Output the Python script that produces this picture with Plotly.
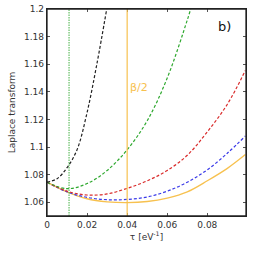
import plotly.graph_objects as go

# data
tau_orange = [0, 0.01, 0.02, 0.03, 0.04, 0.05, 0.06, 0.07, 0.08, 0.09, 0.099]
val_orange = [1.0745, 1.0675, 1.0625, 1.0603, 1.0597, 1.0605, 1.0630, 1.0675, 1.0755, 1.0845, 1.0945]

tau_blue = [0, 0.01, 0.02, 0.03, 0.04, 0.05, 0.06, 0.07, 0.08, 0.09, 0.099]
val_blue = [1.0745, 1.0675, 1.0635, 1.0618, 1.0620, 1.0638, 1.0680, 1.0745, 1.0835, 1.0955, 1.108]

tau_red = [0, 0.01, 0.02, 0.03, 0.04, 0.05, 0.06, 0.07, 0.08, 0.09, 0.099]
val_red = [1.0745, 1.0680, 1.0652, 1.0660, 1.0700, 1.0755, 1.0830, 1.0940, 1.1110, 1.1310, 1.1555]

tau_green = [0, 0.01, 0.02, 0.03, 0.04, 0.05, 0.06, 0.07, 0.0717]
val_green = [1.0745, 1.0698, 1.0735, 1.0830, 1.0980, 1.1190, 1.1500, 1.1920, 1.2]

tau_black = [0, 0.005, 0.01, 0.015, 0.02, 0.025, 0.0298]
val_black = [1.0745, 1.0770, 1.0850, 1.0980, 1.1250, 1.1610, 1.2]

vline_green = 0.011
vline_orange = 0.04

x_ticks = [0, 0.02, 0.04, 0.06, 0.08]
x_tick_text = ["0", "0.02", "0.04", "0.06", "0.08"]
y_ticks = [1.06, 1.08, 1.1, 1.12, 1.14, 1.16, 1.18, 1.2]
y_tick_text = ["1.06", "1.08", "1.1", "1.12", "1.14", "1.16", "1.18", "1.2"]

ORANGE = "#F7C14F"
GREEN = "#2EA82E"
fig = go.Figure()

fig.add_trace(go.Scatter(x=tau_orange, y=val_orange, mode="lines",
                         line=dict(color=ORANGE, width=1.3, shape="spline")))
fig.add_trace(go.Scatter(x=tau_blue, y=val_blue, mode="lines",
                         line=dict(color="#3A3AE8", width=1.2, dash="3px,2px", shape="spline")))
fig.add_trace(go.Scatter(x=tau_red, y=val_red, mode="lines",
                         line=dict(color="#D92A2A", width=1.2, dash="3px,2px", shape="spline")))
fig.add_trace(go.Scatter(x=tau_green, y=val_green, mode="lines",
                         line=dict(color=GREEN, width=1.2, dash="3px,2px", shape="spline")))
fig.add_trace(go.Scatter(x=tau_black, y=val_black, mode="lines",
                         line=dict(color="#222222", width=1.2, dash="3px,2px", shape="spline")))

fig.add_vline(x=vline_green, line=dict(color=GREEN, width=0.9, dash="1.5px,1px"))
fig.add_vline(x=vline_orange, line=dict(color=ORANGE, width=1.2))

# frame around the plotting area
fig.add_shape(type="rect", xref="paper", yref="paper", x0=0, x1=1, y0=0, y1=1,
              line=dict(color="#222222", width=1.3), layer="above")

fig.add_annotation(x=0.0405, y=1.143, text="β/2", showarrow=False, xanchor="left",
                   font=dict(color=ORANGE, size=11, family="DejaVu Sans"))
fig.add_annotation(x=0.0885, y=1.1875, text="b)", showarrow=False,
                   font=dict(color="#111111", size=13, family="DejaVu Sans"))

axis_common = dict(showline=True, linecolor="#222222", linewidth=1.3, mirror="ticks",
                   ticks="inside", ticklen=3, tickcolor="#555555", showgrid=False,
                   zeroline=False, automargin=False, ticklabeloverflow="allow",
                   tickfont=dict(size=9, color="#333333", family="DejaVu Sans"))

fig.update_xaxes(range=[0, 0.0993], tickvals=x_ticks, ticktext=x_tick_text,
                 title=dict(text="τ [eV<sup>-1</sup>]", font=dict(size=9, color="#333333", family="DejaVu Sans"),
                            standoff=3), **axis_common)
fig.update_yaxes(range=[1.05, 1.2], tickvals=y_ticks, ticktext=y_tick_text,
                 title=dict(text="Laplace transform", font=dict(size=9, color="#333333", family="DejaVu Sans"),
                            standoff=6), **axis_common)

fig.update_layout(width=262, height=255, margin=dict(l=47, r=16, t=9, b=39),
                  plot_bgcolor="white", paper_bgcolor="white", showlegend=False)

# remove the default 8px page margin so the figure fills the window
fig.write_html("out.html", config={"displayModeBar": False},
               post_script="document.body.style.margin='0';")
